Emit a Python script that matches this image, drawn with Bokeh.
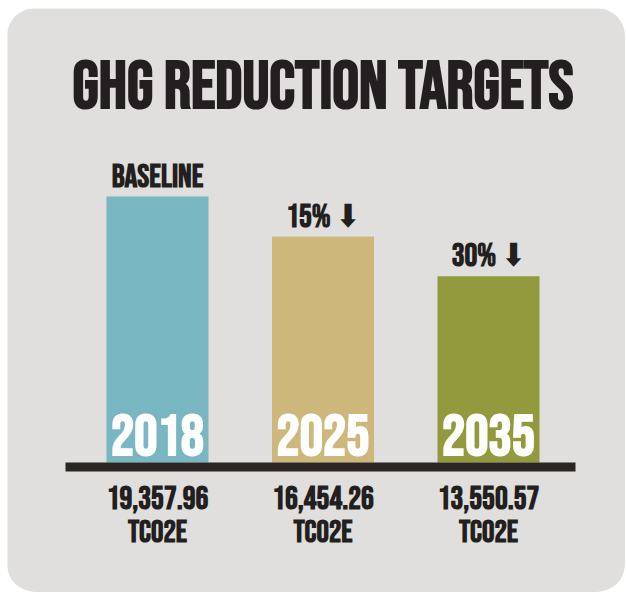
from bokeh.plotting import figure
from bokeh.models import Range1d, Label, ColumnDataSource
from bokeh.core.properties import value
from bokeh.embed import file_html
from bokeh.resources import INLINE

# ---- data ----
years = ["2018", "2025", "2035"]
emissions = [19357.96, 16454.26, 13550.57]
value_labels = ["19,357.96", "16,454.26", "13,550.57"]
unit_labels = ["TCO2E", "TCO2E", "TCO2E"]
top_labels = ["BASELINE", "15% \u2B07", "30% \u2B07"]
bar_colors = ["#78b7c1", "#cdb77b", "#929a3d"]
title_text = "GHG REDUCTION TARGETS"

# ---- style / layout ----
PANEL = "#e0dfdd"
INK = "#231f20"
FONT_NAME = "Bebas Neue, DejaVu Sans Condensed, sans-serif"
FONT = value(FONT_NAME)
W, H = 618, 584
ZERO_FROM_TOP = 454             # px from figure top to value 0
MAX_BAR_PX = 266                # px height of largest bar
SPACING_PX = 165.5
FIRST_CENTER_PX = 150
LINE_L_PX, LINE_R_PX = 58, 568
SHIFT = 0.45                    # baseline correction (em)
NUDGE = 3                       # extra px downward for label rows

u = max(emissions) / MAX_BAR_PX  # data units per pixel
x0 = -FIRST_CENTER_PX / SPACING_PX
x_range = Range1d(x0, x0 + W / SPACING_PX)
y_range = Range1d(-(H - ZERO_FROM_TOP) * u, ZERO_FROM_TOP * u)

p = figure(width=W, height=H, x_range=x_range, y_range=y_range,
           output_backend="svg", toolbar_location=None,
           x_axis_type=None, y_axis_type=None,
           min_border=0,
           border_fill_color=PANEL, background_fill_color=PANEL,
           outline_line_color=None)
p.grid.visible = False
p.styles = {"border-radius": "28px", "overflow": "hidden",
            "margin-left": "7px", "margin-top": "8px"}

xs = list(range(len(years)))
src = ColumnDataSource(dict(x=xs, top=emissions, year=years, val=value_labels,
                            unit=unit_labels, note=top_labels, color=bar_colors))

p.vbar(x="x", top="top", bottom=0, width=102 / SPACING_PX,
       fill_color="color", line_color=None, source=src)

# baseline rule under the bars
p.segment(x0=(LINE_L_PX - FIRST_CENTER_PX) / SPACING_PX, y0=-4.5 * u,
          x1=(LINE_R_PX - FIRST_CENTER_PX) / SPACING_PX, y1=-4.5 * u,
          line_color="#2a2623", line_width=9, line_cap="butt")


def label_row(y, col, size, color, offset):
    p.text(x="x", y=y, text=col, source=src, text_font=FONT,
           text_font_style="bold", text_font_size=f"{size}px",
           text_color=color, text_align="center", text_baseline="alphabetic",
           y_offset=offset + NUDGE - SHIFT * size)


label_row(0, "year", 58, "white", -5)
label_row("top", "note", 32, INK, -8)
label_row(0, "val", 32, INK, 46)
label_row(0, "unit", 31, INK, 81)

TITLE_SIZE = 67
TITLE_BASE_PX = 110             # px from figure top to title baseline
p.add_layout(Label(x=1, y=(ZERO_FROM_TOP - TITLE_BASE_PX + SHIFT * TITLE_SIZE) * u,
                   text=title_text, text_font=FONT_NAME,
                   text_font_style="bold", text_font_size=f"{TITLE_SIZE}px",
                   text_color=INK, text_align="center",
                   text_baseline="alphabetic"))

open("out.html", "w").write(file_html(p, INLINE))
